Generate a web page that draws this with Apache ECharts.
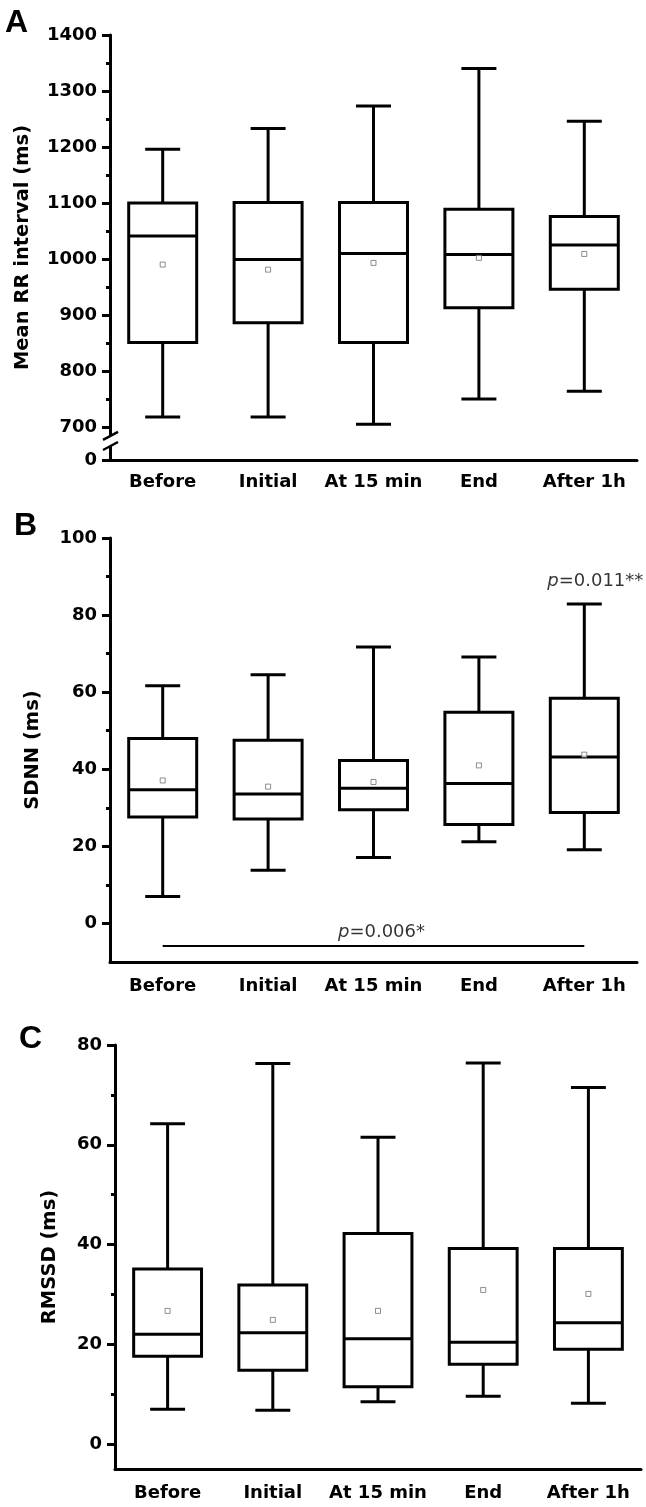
<!DOCTYPE html>
<html><head><meta charset="utf-8">
<script src="https://cdn.jsdelivr.net/npm/echarts@6/dist/echarts.min.js"></script>
<style>html,body{margin:0;padding:0;background:#fff}#c{width:646px;height:1507px}</style>
</head><body><div id="c"></div>
<script>
const categories = ['Before', 'Initial', 'At 15 min', 'End', 'After 1h'];

// Panel A: Mean RR interval (ms) — [min, Q1, median, Q3, max], mean
const rrMin  = [718, 718, 705, 750, 764];
const rrQ1   = [851, 886, 851, 913, 946];
const rrMed  = [1041, 999, 1010, 1008, 1025];
const rrQ3   = [1100, 1101, 1101, 1089, 1076];
const rrMax  = [1196, 1233, 1273, 1340, 1246];
const rrMean = [990, 981, 993, 1002, 1009];

// Panel B: SDNN (ms)
const sdnnMin  = [7.0, 13.8, 17.1, 21.2, 19.1];
const sdnnQ1   = [27.6, 27.1, 29.5, 25.7, 28.8];
const sdnnMed  = [34.7, 33.6, 35.1, 36.3, 43.2];
const sdnnQ3   = [48.0, 47.5, 42.3, 54.8, 58.4];
const sdnnMax  = [61.7, 64.5, 71.7, 69.1, 82.9];
const sdnnMean = [37.1, 35.5, 36.7, 41.0, 43.8];

// Panel C: RMSSD (ms)
const rmssdMin  = [7.0, 6.8, 8.5, 9.6, 8.2];
const rmssdQ1   = [17.6, 14.8, 11.5, 16.0, 19.0];
const rmssdMed  = [22.0, 22.3, 21.1, 20.4, 24.3];
const rmssdQ3   = [35.1, 31.9, 42.2, 39.2, 39.2];
const rmssdMax  = [64.2, 76.3, 61.5, 76.4, 71.5];
const rmssdMean = [26.7, 24.9, 26.7, 30.9, 30.1];

// Tick values
const rrBase = 641;              // bottom of broken axis, labelled "0"
const rrTicks = [641, 700, 800, 900, 1000, 1100, 1200, 1300, 1400];
const rrMinor = [750, 850, 950, 1050, 1150, 1250, 1350];
const sdnnTicks = [0, 20, 40, 60, 80, 100];
const sdnnMinor = [10, 30, 50, 70, 90];
const rmssdTicks = [0, 20, 40, 60, 80];
const rmssdMinor = [10, 30, 50, 70];

// Significance annotations (panel B)
const sigLineValue = -5.7;
const sigAll = { cat: 2, value: -2.2, text: '0.006*' };
const sigAfter = { cat: 4, value: 88.8, text: '0.011**' };

const FONT = 'DejaVu Sans, sans-serif';
const FONT_TITLE = 'Liberation Sans, Arial, sans-serif';

function rows(mn, q1, md, q3, mx) {
  return categories.map((c, i) => [i, mn[i], q1[i], md[i], q3[i], mx[i]]);
}
function renderBox(params, api) {
  const x = api.value(0);
  const pMin = api.coord([x, api.value(1)]);
  const pQ1 = api.coord([x, api.value(2)]);
  const pMed = api.coord([x, api.value(3)]);
  const pQ3 = api.coord([x, api.value(4)]);
  const pMax = api.coord([x, api.value(5)]);
  const band = api.size([1, 0])[0];
  const bw = band * 0.645, cw = band * 0.332, cx = pMed[0];
  const st = { stroke: '#000', lineWidth: 3, fill: null };
  return {
    type: 'group',
    children: [
      { type: 'line', shape: { x1: cx, y1: pMax[1], x2: cx, y2: pQ3[1] }, style: st },
      { type: 'line', shape: { x1: cx - cw / 2, y1: pMax[1], x2: cx + cw / 2, y2: pMax[1] }, style: st },
      { type: 'line', shape: { x1: cx, y1: pMin[1], x2: cx, y2: pQ1[1] }, style: st },
      { type: 'line', shape: { x1: cx - cw / 2, y1: pMin[1], x2: cx + cw / 2, y2: pMin[1] }, style: st },
      { type: 'rect', shape: { x: cx - bw / 2, y: pQ3[1], width: bw, height: pQ1[1] - pQ3[1] },
        style: { fill: '#fff', stroke: '#000', lineWidth: 3 } },
      { type: 'line', shape: { x1: cx - bw / 2, y1: pMed[1], x2: cx + bw / 2, y2: pMed[1] }, style: st }
    ]
  };
}
function xAxis(g, margin) {
  return {
    gridIndex: g, type: 'category', data: categories, boundaryGap: true,
    axisLine: { onZero: false, lineStyle: { color: '#000', width: 3 } },
    axisTick: { alignWithLabel: true, length: 7, lineStyle: { color: '#000', width: 3 } },
    axisLabel: { interval: 0, margin: margin, fontSize: 18, fontWeight: 'bold', color: '#000', fontFamily: FONT },
    splitLine: { show: false }
  };
}
function yMain(g, min, max, ticks, name, gap, fmt) {
  return {
    gridIndex: g, type: 'value', min: min, max: max,
    name: name, nameLocation: 'middle', nameGap: gap,
    nameTextStyle: { fontSize: 19.5, fontWeight: 'bold', color: '#000', fontFamily: FONT },
    axisLine: { show: true, onZero: false, lineStyle: { color: '#000', width: 3 } },
    axisTick: { show: true, length: 8, customValues: ticks, lineStyle: { color: '#000', width: 3 } },
    axisLabel: { customValues: ticks, margin: 13, fontSize: 18, fontWeight: 'bold', color: '#000',
      fontFamily: FONT, formatter: fmt || (v => String(v)) },
    splitLine: { show: false }
  };
}
function yMinor(g, min, max, ticks) {
  return {
    gridIndex: g, type: 'value', min: min, max: max, position: 'left', offset: 0,
    axisLine: { show: false },
    axisTick: { show: true, length: 4, customValues: ticks, lineStyle: { color: '#000', width: 3 } },
    axisLabel: { show: false }, splitLine: { show: false }
  };
}
function meanSeries(g, vals, extra) {
  return Object.assign({
    type: 'scatter', xAxisIndex: g, yAxisIndex: g * 2, z: 5,
    symbol: 'rect', symbolSize: 5,
    itemStyle: { color: '#fff', borderColor: '#707070', borderWidth: 1 },
    data: vals.map((v, i) => [i, v]), silent: true
  }, extra || {});
}
function boxSeries(g, data) {
  return { type: 'custom', xAxisIndex: g, yAxisIndex: g * 2, renderItem: renderBox,
    encode: { x: 0, y: [1, 2, 3, 4, 5] }, data: data, z: 3, silent: true };
}

const chart = echarts.init(document.getElementById('c'), null, { renderer: 'canvas' });
const titleStyle = { fontSize: 32, fontWeight: 'bold', color: '#000', fontFamily: FONT_TITLE };
chart.setOption({
  animation: false,
  backgroundColor: '#fff',
  title: [
    { text: 'A', left: 5, top: 7, padding: 0, textStyle: titleStyle },
    { text: 'B', left: 14, top: 510, padding: 0, textStyle: titleStyle },
    { text: 'C', left: 19, top: 1023, padding: 0, textStyle: titleStyle }
  ],
  grid: [
    { left: 110, right: 9, top: 35, bottom: 1507 - 460 },
    { left: 110, right: 9, top: 538, bottom: 1507 - 962 },
    { left: 115, right: 5, top: 1045, bottom: 1507 - 1469 }
  ],
  xAxis: [xAxis(0, 13), xAxis(1, 15), xAxis(2, 15)],
  yAxis: [
    yMain(0, rrBase, 1400, rrTicks, 'Mean RR interval (ms)', 77, v => (v === rrBase ? '0' : String(v))),
    yMinor(0, rrBase, 1400, rrMinor),
    yMain(1, -10, 100, sdnnTicks, 'SDNN (ms)', 67),
    yMinor(1, -10, 100, sdnnMinor),
    yMain(2, -5, 80, rmssdTicks, 'RMSSD (ms)', 55),
    yMinor(2, -5, 80, rmssdMinor)
  ],
  series: [
    boxSeries(0, rows(rrMin, rrQ1, rrMed, rrQ3, rrMax)),
    meanSeries(0, rrMean),
    boxSeries(1, rows(sdnnMin, sdnnQ1, sdnnMed, sdnnQ3, sdnnMax)),
    meanSeries(1, sdnnMean, {
      markLine: {
        silent: true, symbol: ['none', 'none'], label: { show: false },
        lineStyle: { color: '#000', width: 2, type: 'solid' },
        data: [[{ coord: [0, sigLineValue] }, { coord: [categories.length - 1, sigLineValue] }]]
      }
    }),
    {
      type: 'scatter', xAxisIndex: 1, yAxisIndex: 2, symbolSize: 0, silent: true, z: 6,
      data: [
        { value: [sigAll.cat, sigAll.value], label: { offset: [8, 0], formatter: '{i|p}=' + sigAll.text } },
        { value: [sigAfter.cat, sigAfter.value], label: { offset: [11, 0], formatter: '{i|p}=' + sigAfter.text } }
      ],
      label: {
        show: true, position: 'inside', fontSize: 18, color: '#000', fontFamily: FONT,
        textBorderWidth: 0,
        rich: { i: { fontStyle: 'italic', fontSize: 18, color: '#000', fontFamily: FONT } }
      }
    },
    boxSeries(2, rows(rmssdMin, rmssdQ1, rmssdMed, rmssdQ3, rmssdMax)),
    meanSeries(2, rmssdMean)
  ]
});

// axis-break marks on panel A (positions from the axis scale)
const axisX = 110;
const yHi = chart.convertToPixel({ yAxisIndex: 0 }, 684);
const yLo = chart.convertToPixel({ yAxisIndex: 0 }, 666);
chart.setOption({
  graphic: [
    { type: 'rect', shape: { x: axisX - 3, y: yHi, width: 6, height: yLo - yHi }, style: { fill: '#fff' }, z: 100 },
    { type: 'line', shape: { x1: axisX - 7, y1: yHi + 4, x2: axisX + 8, y2: yHi - 4 }, style: { stroke: '#000', lineWidth: 2.5 }, z: 101 },
    { type: 'line', shape: { x1: axisX - 7, y1: yLo + 4, x2: axisX + 8, y2: yLo - 4 }, style: { stroke: '#000', lineWidth: 2.5 }, z: 101 }
  ]
});
</script></body></html>
